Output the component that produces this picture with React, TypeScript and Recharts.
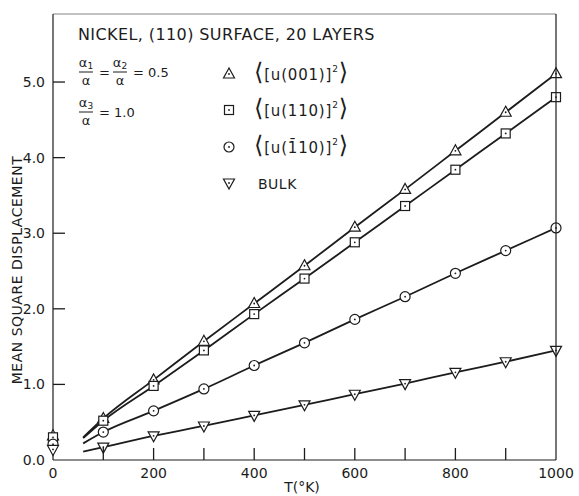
import React from 'react';
import {
  ComposedChart,
  Line,
  Scatter,
  XAxis,
  YAxis,
} from 'recharts';

// temperatures (K) where the points were computed
const temps = [100, 200, 300, 400, 500, 600, 700, 800, 900, 1000];
// mean square displacement for each direction
const u001 = [0.55, 1.06, 1.57, 2.07, 2.57, 3.08, 3.58, 4.09, 4.6, 5.11];
const u110 = [0.52, 0.98, 1.45, 1.93, 2.4, 2.88, 3.36, 3.84, 4.32, 4.8];
const u1bar10 = [0.37, 0.65, 0.94, 1.25, 1.55, 1.86, 2.16, 2.47, 2.77, 3.07];
const bulk = [0.17, 0.32, 0.45, 0.59, 0.73, 0.87, 1.01, 1.16, 1.3, 1.45];
// where the drawn curves begin (T = 60) and the zero-point values at T = 0
const curveStartT = 60;
const curveStart = [0.3, 0.29, 0.22, 0.11];
const zeroPoint = [0.32, 0.3, 0.21, 0.14];

const xTicks = [0, 100, 200, 300, 400, 500, 600, 700, 800, 900, 1000];
const yTicks = [0, 1, 2, 3, 4, 5];
const xMax = 1000;
const yMax = 5.9;

const series = [
  { key: 'u001', values: u001, shape: 'up' },
  { key: 'u110', values: u110, shape: 'square' },
  { key: 'u1bar10', values: u1bar10, shape: 'circle' },
  { key: 'bulk', values: bulk, shape: 'down' },
];

const INK = '#1c1c1c';
const FONT = '"DejaVu Sans", sans-serif';

// plot box (same numbers as the chart margins / axis sizes)
const W = 579;
const H = 496;
const M = { top: 14, right: 23, left: 8, bottom: 0 };
const Y_AXIS_W = 45;
const X_AXIS_H = 36;
const box = {
  left: M.left + Y_AXIS_W,
  right: W - M.right,
  top: M.top,
  bottom: H - M.bottom - X_AXIS_H,
};

function Mark({ cx, cy, kind }: { cx: number; cy: number; kind: string }) {
  const common = { fill: '#fff', stroke: INK, strokeWidth: 1.2 };
  let body;
  if (kind === 'up') {
    body = <polygon points={`${cx},${cy - 6} ${cx - 5.5},${cy + 4} ${cx + 5.5},${cy + 4}`} {...common} />;
  } else if (kind === 'down') {
    body = <polygon points={`${cx - 5.5},${cy - 4} ${cx + 5.5},${cy - 4} ${cx},${cy + 6}`} {...common} />;
  } else if (kind === 'square') {
    body = <rect x={cx - 4.5} y={cy - 4.5} width={9} height={9} {...common} />;
  } else {
    body = <circle cx={cx} cy={cy} r={5} {...common} />;
  }
  return (
    <g>
      {body}
      <circle cx={cx} cy={cy} r={0.9} fill={INK} />
    </g>
  );
}

const shapeFor = (kind: string) => (props: any) =>
  <Mark cx={props.cx} cy={props.cy} kind={kind} />;

export default function App() {
  const lineData = series.map((s, i) => [
    { T: curveStartT, v: curveStart[i] },
    ...temps.map((t, j) => ({ T: t, v: s.values[j] })),
  ]);
  const pointData = series.map((s, i) => [
    { T: 0, v: zeroPoint[i] },
    ...temps.map((t, j) => ({ T: t, v: s.values[j] })),
  ]);

  const px = (t: number) => box.left + (t / xMax) * (box.right - box.left);
  const py = (v: number) => box.bottom - (v / yMax) * (box.bottom - box.top);

  const txt = { fontFamily: FONT, fill: INK };

  return (
    <div style={{ position: 'absolute', left: 0, top: 0, width: W, height: H, background: '#fff' }}>
      <ComposedChart width={W} height={H} margin={M}>
        <XAxis
          dataKey="T"
          type="number"
          domain={[0, xMax]}
          ticks={xTicks}
          interval={0}
          height={X_AXIS_H}
          tickLine={false}
          tickSize={0}
          tickMargin={8}
          stroke={INK}
          strokeWidth={1.2}
          tick={{ fontSize: 14, fill: INK, fontFamily: FONT }}
          tickFormatter={(v) => (v % 200 === 0 ? String(v) : '')}
        />
        <YAxis
          type="number"
          domain={[0, yMax]}
          ticks={yTicks}
          interval={0}
          width={Y_AXIS_W}
          tickLine={false}
          tickSize={0}
          tickMargin={8}
          stroke={INK}
          strokeWidth={1.2}
          allowDataOverflow
          tick={{ fontSize: 14, fill: INK, fontFamily: FONT }}
          tickFormatter={(v) => Number(v).toFixed(1)}
        />
        {series.map((s, i) => (
          <Line
            key={s.key + '-line'}
            data={lineData[i]}
            dataKey="v"
            type="monotone"
            stroke={INK}
            strokeWidth={1.8}
            dot={false}
            activeDot={false}
            isAnimationActive={false}
          />
        ))}
        {series.map((s, i) => (
          <Scatter
            key={s.key + '-pts'}
            data={pointData[i]}
            dataKey="v"
            shape={shapeFor(s.shape)}
            isAnimationActive={false}
          />
        ))}
      </ComposedChart>
      <svg
        width={W}
        height={H}
        style={{ position: 'absolute', left: 0, top: 0, pointerEvents: 'none' }}
      >
        {/* frame and inward ticks */}
        <line x1={box.left} x2={box.right} y1={box.top} y2={box.top} stroke="#666" strokeWidth={0.8} />
        <line x1={box.right} x2={box.right} y1={box.top} y2={box.bottom} stroke={INK} strokeWidth={1.2} />
        {xTicks.filter((t) => t > 0 && t < xMax).map((t) => (
          <line key={'xt' + t} x1={px(t)} x2={px(t)} y1={box.bottom} y2={box.bottom - 12} stroke={INK} strokeWidth={1.3} />
        ))}
        {yTicks.filter((v) => v > 0).map((v) => (
          <line key={'yt' + v} x1={box.left} x2={box.left + 12} y1={py(v)} y2={py(v)} stroke={INK} strokeWidth={1.3} />
        ))}
        <text x={78} y={40} fontSize={16} letterSpacing={0.4} {...txt}>
          NICKEL, (110) SURFACE, 20 LAYERS
        </text>
        {/* alpha ratios */}
        <g fontSize={13} {...txt}>
          <text x={86} y={67} textAnchor="middle">α<tspan fontSize={9} dy={2}>1</tspan></text>
          <line x1={79} x2={93} y1={72} y2={72} stroke={INK} strokeWidth={1} />
          <text x={86} y={85} textAnchor="middle">α</text>
          <text x={99} y={77}>=</text>
          <text x={120} y={67} textAnchor="middle">α<tspan fontSize={9} dy={2}>2</tspan></text>
          <line x1={113} x2={127} y1={72} y2={72} stroke={INK} strokeWidth={1} />
          <text x={120} y={85} textAnchor="middle">α</text>
          <text x={133} y={77}>= 0.5</text>
          <text x={86} y={107} textAnchor="middle">α<tspan fontSize={9} dy={2}>3</tspan></text>
          <line x1={79} x2={93} y1={112} y2={112} stroke={INK} strokeWidth={1} />
          <text x={86} y={125} textAnchor="middle">α</text>
          <text x={99} y={117}>= 1.0</text>
        </g>
        {/* legend */}
        <Mark cx={229} cy={74} kind="up" />
        <Mark cx={229} cy={110} kind="square" />
        <Mark cx={229} cy={147} kind="circle" />
        <Mark cx={229} cy={183} kind="down" />
        <g fontSize={15} letterSpacing={0.8} {...txt}>
          <text x={254} y={80}>
            <tspan fontSize={24}>⟨</tspan>[u(001)]<tspan fontSize={9} dy={-8}>2</tspan><tspan fontSize={24} dy={8}>⟩</tspan>
          </text>
          <text x={254} y={116}>
            <tspan fontSize={24}>⟨</tspan>[u(110)]<tspan fontSize={9} dy={-8}>2</tspan><tspan fontSize={24} dy={8}>⟩</tspan>
          </text>
          <text x={254} y={153}>
            <tspan fontSize={24}>⟨</tspan>[u(1̄10)]<tspan fontSize={9} dy={-8}>2</tspan><tspan fontSize={24} dy={8}>⟩</tspan>
          </text>
          <text x={258} y={189} fontSize={14} letterSpacing={0.5}>BULK</text>
        </g>
        <text x={302} y={492} fontSize={14} textAnchor="middle" {...txt}>
          T(°K)
        </text>
        <text
          x={0}
          y={0}
          fontSize={14}
          letterSpacing={0.5}
          textAnchor="middle"
          transform="translate(22,270) rotate(-90)"
          {...txt}
        >
          MEAN SQUARE DISPLACEMENT
        </text>
      </svg>
    </div>
  );
}
